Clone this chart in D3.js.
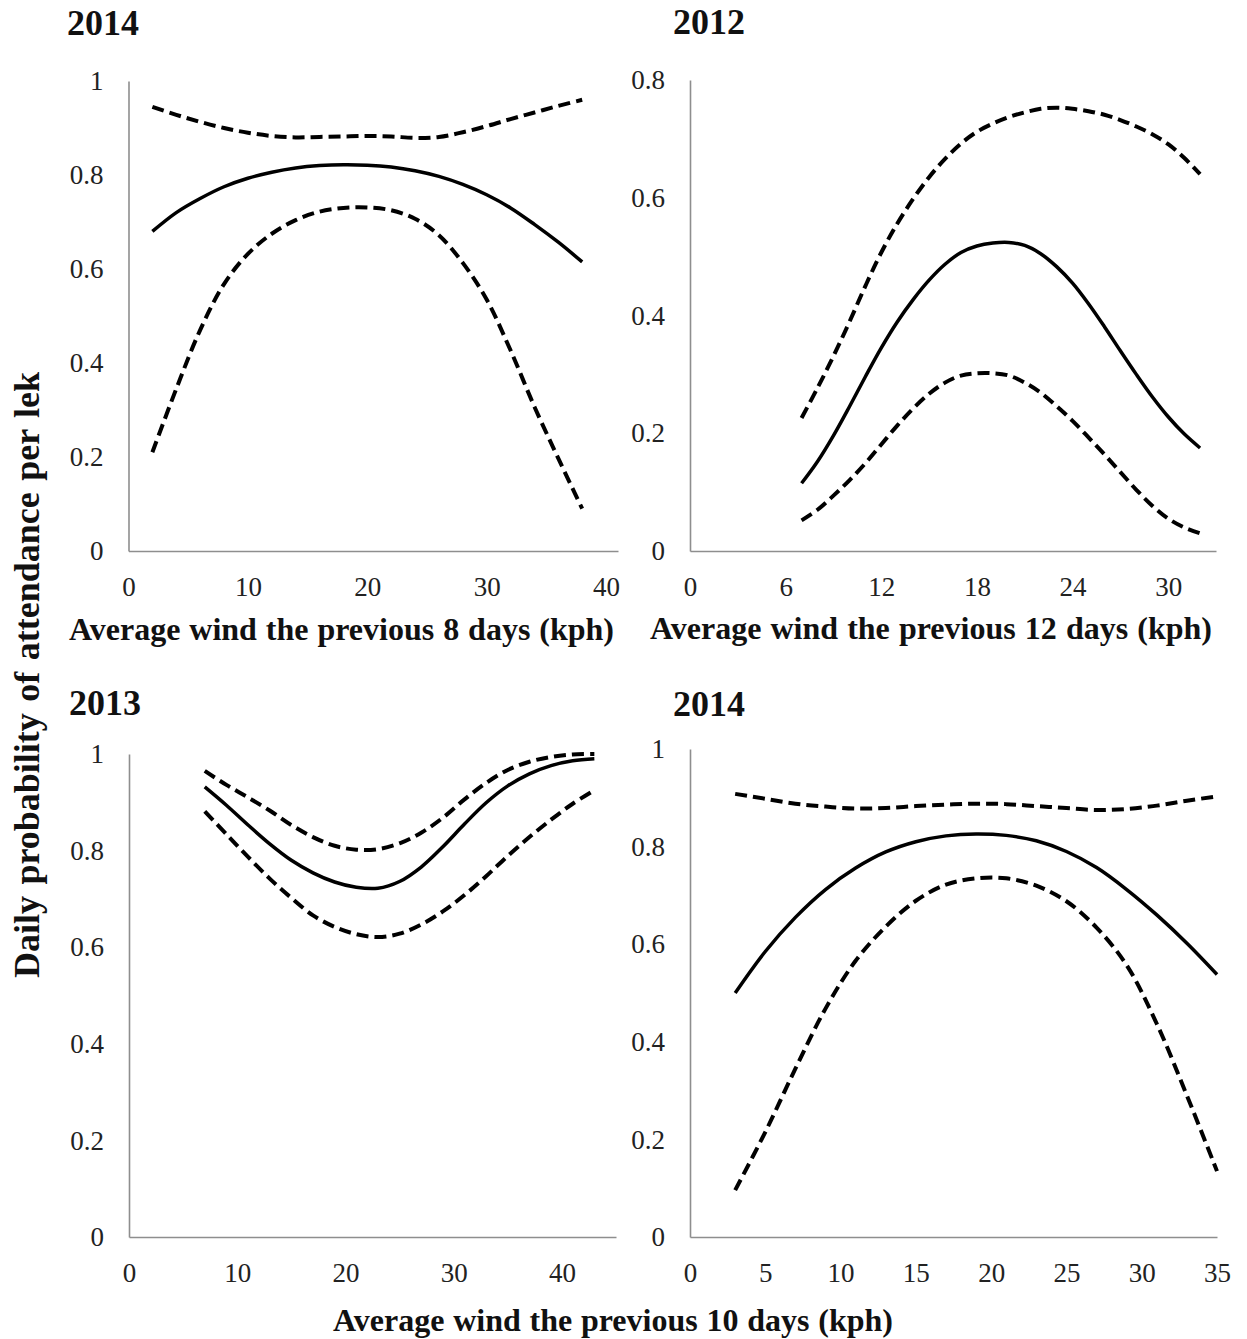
<!DOCTYPE html>
<html>
<head>
<meta charset="utf-8">
<script src="https://cdn.jsdelivr.net/npm/d3@7"></script>
<style>
  body { margin: 0; background: #ffffff; }
  svg { display: block; }
</style>
</head>
<body>
<svg id="chart" width="1247" height="1339"></svg>
<script>
// ---------------------------------------------------------------
// Predicted daily probability of attendance per lek (fit) with
// lower / upper confidence bounds, against average wind speed.
// ---------------------------------------------------------------

// Panel A: 2014, average wind over the previous 8 days
const windA  = [2, 4, 6, 8, 10, 12, 14, 16, 18, 20, 22, 24, 26, 28, 30, 32, 34, 36, 38];
const fitA   = [0.680, 0.720, 0.750, 0.775, 0.793, 0.806, 0.815, 0.820, 0.822, 0.821, 0.817, 0.809, 0.797, 0.780, 0.758, 0.730, 0.695, 0.657, 0.615];
const upperA = [0.945, 0.928, 0.913, 0.900, 0.890, 0.883, 0.880, 0.881, 0.882, 0.883, 0.882, 0.879, 0.881, 0.891, 0.904, 0.919, 0.933, 0.947, 0.960];
const lowerA = [0.210, 0.345, 0.470, 0.568, 0.632, 0.675, 0.704, 0.722, 0.730, 0.731, 0.725, 0.707, 0.672, 0.613, 0.535, 0.427, 0.307, 0.197, 0.090];

// Panel B: 2012, average wind over the previous 12 days
const windB  = [7, 8, 9, 10, 11, 12, 13, 14, 15, 16, 17, 18, 19, 20, 21, 22, 23, 24, 25, 26, 27, 28, 29, 30, 31, 32];
const fitB   = [0.115, 0.152, 0.196, 0.245, 0.296, 0.345, 0.389, 0.427, 0.460, 0.487, 0.507, 0.518, 0.523, 0.524, 0.519, 0.505, 0.483, 0.455, 0.420, 0.381, 0.340, 0.300, 0.262, 0.228, 0.199, 0.175];
const upperB = [0.226, 0.277, 0.331, 0.389, 0.450, 0.507, 0.556, 0.598, 0.635, 0.666, 0.692, 0.712, 0.726, 0.737, 0.745, 0.751, 0.753, 0.751, 0.747, 0.741, 0.732, 0.721, 0.708, 0.691, 0.668, 0.640];
const lowerB = [0.052, 0.070, 0.094, 0.120, 0.149, 0.181, 0.213, 0.242, 0.267, 0.286, 0.298, 0.302, 0.302, 0.298, 0.286, 0.269, 0.246, 0.221, 0.193, 0.164, 0.134, 0.104, 0.077, 0.055, 0.040, 0.030];

// Panel C: 2013, average wind over the previous 10 days
const windC  = [7, 9, 11, 13, 15, 17, 19, 21, 23, 25, 27, 29, 31, 33, 35, 37, 39, 41, 43];
const fitC   = [0.932, 0.894, 0.853, 0.814, 0.780, 0.754, 0.735, 0.724, 0.722, 0.736, 0.766, 0.808, 0.855, 0.899, 0.934, 0.959, 0.976, 0.986, 0.990];
const upperC = [0.965, 0.936, 0.910, 0.883, 0.853, 0.828, 0.810, 0.802, 0.803, 0.815, 0.837, 0.868, 0.906, 0.940, 0.967, 0.984, 0.994, 0.999, 1.000];
const lowerC = [0.881, 0.834, 0.787, 0.742, 0.702, 0.666, 0.642, 0.627, 0.621, 0.628, 0.647, 0.674, 0.708, 0.747, 0.789, 0.828, 0.864, 0.897, 0.925];

// Panel D: 2014, average wind over the previous 10 days
const windD  = [3, 5, 7, 9, 11, 13, 15, 17, 19, 21, 23, 25, 27, 29, 31, 33, 35];
const fitD   = [0.500, 0.585, 0.655, 0.712, 0.756, 0.789, 0.810, 0.822, 0.826, 0.823, 0.812, 0.790, 0.757, 0.712, 0.660, 0.602, 0.538];
const upperD = [0.908, 0.898, 0.888, 0.882, 0.878, 0.879, 0.883, 0.886, 0.888, 0.887, 0.883, 0.879, 0.875, 0.877, 0.884, 0.894, 0.903];
const lowerD = [0.096, 0.215, 0.345, 0.468, 0.566, 0.636, 0.689, 0.722, 0.735, 0.735, 0.720, 0.688, 0.634, 0.557, 0.437, 0.290, 0.135];

// Axis tick labels and axis extents
const xTicksA = [0, 10, 20, 30, 40];
const xTicksB = [0, 6, 12, 18, 24, 30];
const xTicksC = [0, 10, 20, 30, 40];
const xTicksD = [0, 5, 10, 15, 20, 25, 30, 35];
const yTicksUnit = [0, 0.2, 0.4, 0.6, 0.8, 1];
const yTicksB    = [0, 0.2, 0.4, 0.6, 0.8];
const xMaxA = 41, xMaxB = 33, xMaxC = 45, xMaxD = 35;
const yMaxA = 1,  yMaxB = 0.8, yMaxC = 1, yMaxD = 1;

// Text
const yearA = "2014", yearB = "2012", yearC = "2013", yearD = "2014";
const xTitleA = "Average wind the previous 8 days (kph)";
const xTitleB = "Average wind the previous 12 days (kph)";
const xTitleShared = "Average wind the previous 10 days (kph)";
const yTitle = "Daily probability of attendance per lek";

// ---------------------------------------------------------------
const svg = d3.select("#chart");
const SERIF = "'Liberation Serif', 'Times New Roman', serif";

// Adjust the gaps between words so a label spans a given width
function spanWords(sel, width) {
  const gaps = sel.text().split(" ").length - 1;
  const w = sel.node().getComputedTextLength();
  if (gaps > 0) sel.style("word-spacing", ((width - w) / gaps) + "px");
}

function drawPanel(p) {
  const x = d3.scaleLinear().domain([0, p.xMax]).range([p.left, p.right]);
  const y = d3.scaleLinear().domain([0, p.yMax]).range([p.bottom, p.top]);

  const xAxis = d3.axisBottom(x).tickValues(p.xTicks).tickSize(0).tickPadding(25.5)
    .tickFormat(d3.format(""));
  const yAxis = d3.axisLeft(y).tickValues(p.yTicks).tickSize(0).tickPadding(25)
    .tickFormat(d3.format(""));

  const gx = svg.append("g").attr("transform", `translate(0,${p.bottom})`).call(xAxis);
  const gy = svg.append("g").attr("transform", `translate(${p.left},0)`).call(yAxis);
  [gx, gy].forEach(g => {
    g.select(".domain").attr("stroke", "#8e8e8e").attr("stroke-width", 1.6);
    g.selectAll("text").attr("font-family", SERIF).attr("font-size", 27)
      .attr("fill", "#222");
  });

  const line = d3.line()
    .x(d => x(d[0]))
    .y(d => y(d[1]))
    .curve(d3.curveCatmullRom.alpha(0.5));

  const series = [
    { values: p.upper, dashed: true },
    { values: p.lower, dashed: true },
    { values: p.fit,   dashed: false }
  ];
  svg.append("g").selectAll("path").data(series).join("path")
    .attr("d", s => line(p.wind.map((w, i) => [w, s.values[i]])))
    .attr("fill", "none")
    .attr("stroke", "#000")
    .attr("stroke-width", s => s.dashed ? 4 : 3.5)
    .attr("stroke-dasharray", s => s.dashed ? "12,6" : null);

  svg.append("text")
    .attr("x", p.titleX).attr("y", p.titleY)
    .attr("font-family", SERIF).attr("font-weight", "bold").attr("font-size", 36)
    .attr("fill", "#111")
    .text(p.year);

  if (p.xTitle) {
    const t = svg.append("text")
      .attr("x", p.xTitleX).attr("y", p.xTitleY)
      .attr("font-family", SERIF).attr("font-weight", "bold").attr("font-size", 32)
      .attr("fill", "#111")
      .text(p.xTitle);
    spanWords(t, p.xTitleW);
  }
}

drawPanel({
  wind: windA, fit: fitA, upper: upperA, lower: lowerA,
  xTicks: xTicksA, yTicks: yTicksUnit, xMax: xMaxA, yMax: yMaxA,
  left: 128.5, right: 618, top: 81, bottom: 551,
  year: yearA, titleX: 67, titleY: 35,
  xTitle: xTitleA, xTitleX: 69, xTitleY: 640, xTitleW: 545
});
drawPanel({
  wind: windB, fit: fitB, upper: upperB, lower: lowerB,
  xTicks: xTicksB, yTicks: yTicksB, xMax: xMaxB, yMax: yMaxB,
  left: 690, right: 1216, top: 80, bottom: 551,
  year: yearB, titleX: 673, titleY: 34,
  xTitle: xTitleB, xTitleX: 650, xTitleY: 639, xTitleW: 562
});
drawPanel({
  wind: windC, fit: fitC, upper: upperC, lower: lowerC,
  xTicks: xTicksC, yTicks: yTicksUnit, xMax: xMaxC, yMax: yMaxC,
  left: 129, right: 616, top: 754, bottom: 1237,
  year: yearC, titleX: 69, titleY: 715
});
drawPanel({
  wind: windD, fit: fitD, upper: upperD, lower: lowerD,
  xTicks: xTicksD, yTicks: yTicksUnit, xMax: xMaxD, yMax: yMaxD,
  left: 690, right: 1217, top: 749, bottom: 1237,
  year: yearD, titleX: 673, titleY: 716
});

// Shared x title under the bottom row
const sharedX = svg.append("text")
  .attr("x", 333).attr("y", 1331)
  .attr("font-family", SERIF).attr("font-weight", "bold").attr("font-size", 32)
  .attr("fill", "#111")
  .text(xTitleShared);
spanWords(sharedX, 560);

// Shared y title down the left edge
const yT = svg.append("text")
  .attr("transform", "translate(39,675) rotate(-90)")
  .attr("text-anchor", "middle")
  .attr("font-family", SERIF).attr("font-weight", "bold").attr("font-size", 36)
  .attr("fill", "#111")
  .text(yTitle);
spanWords(yT, 606);
</script>
</body>
</html>
